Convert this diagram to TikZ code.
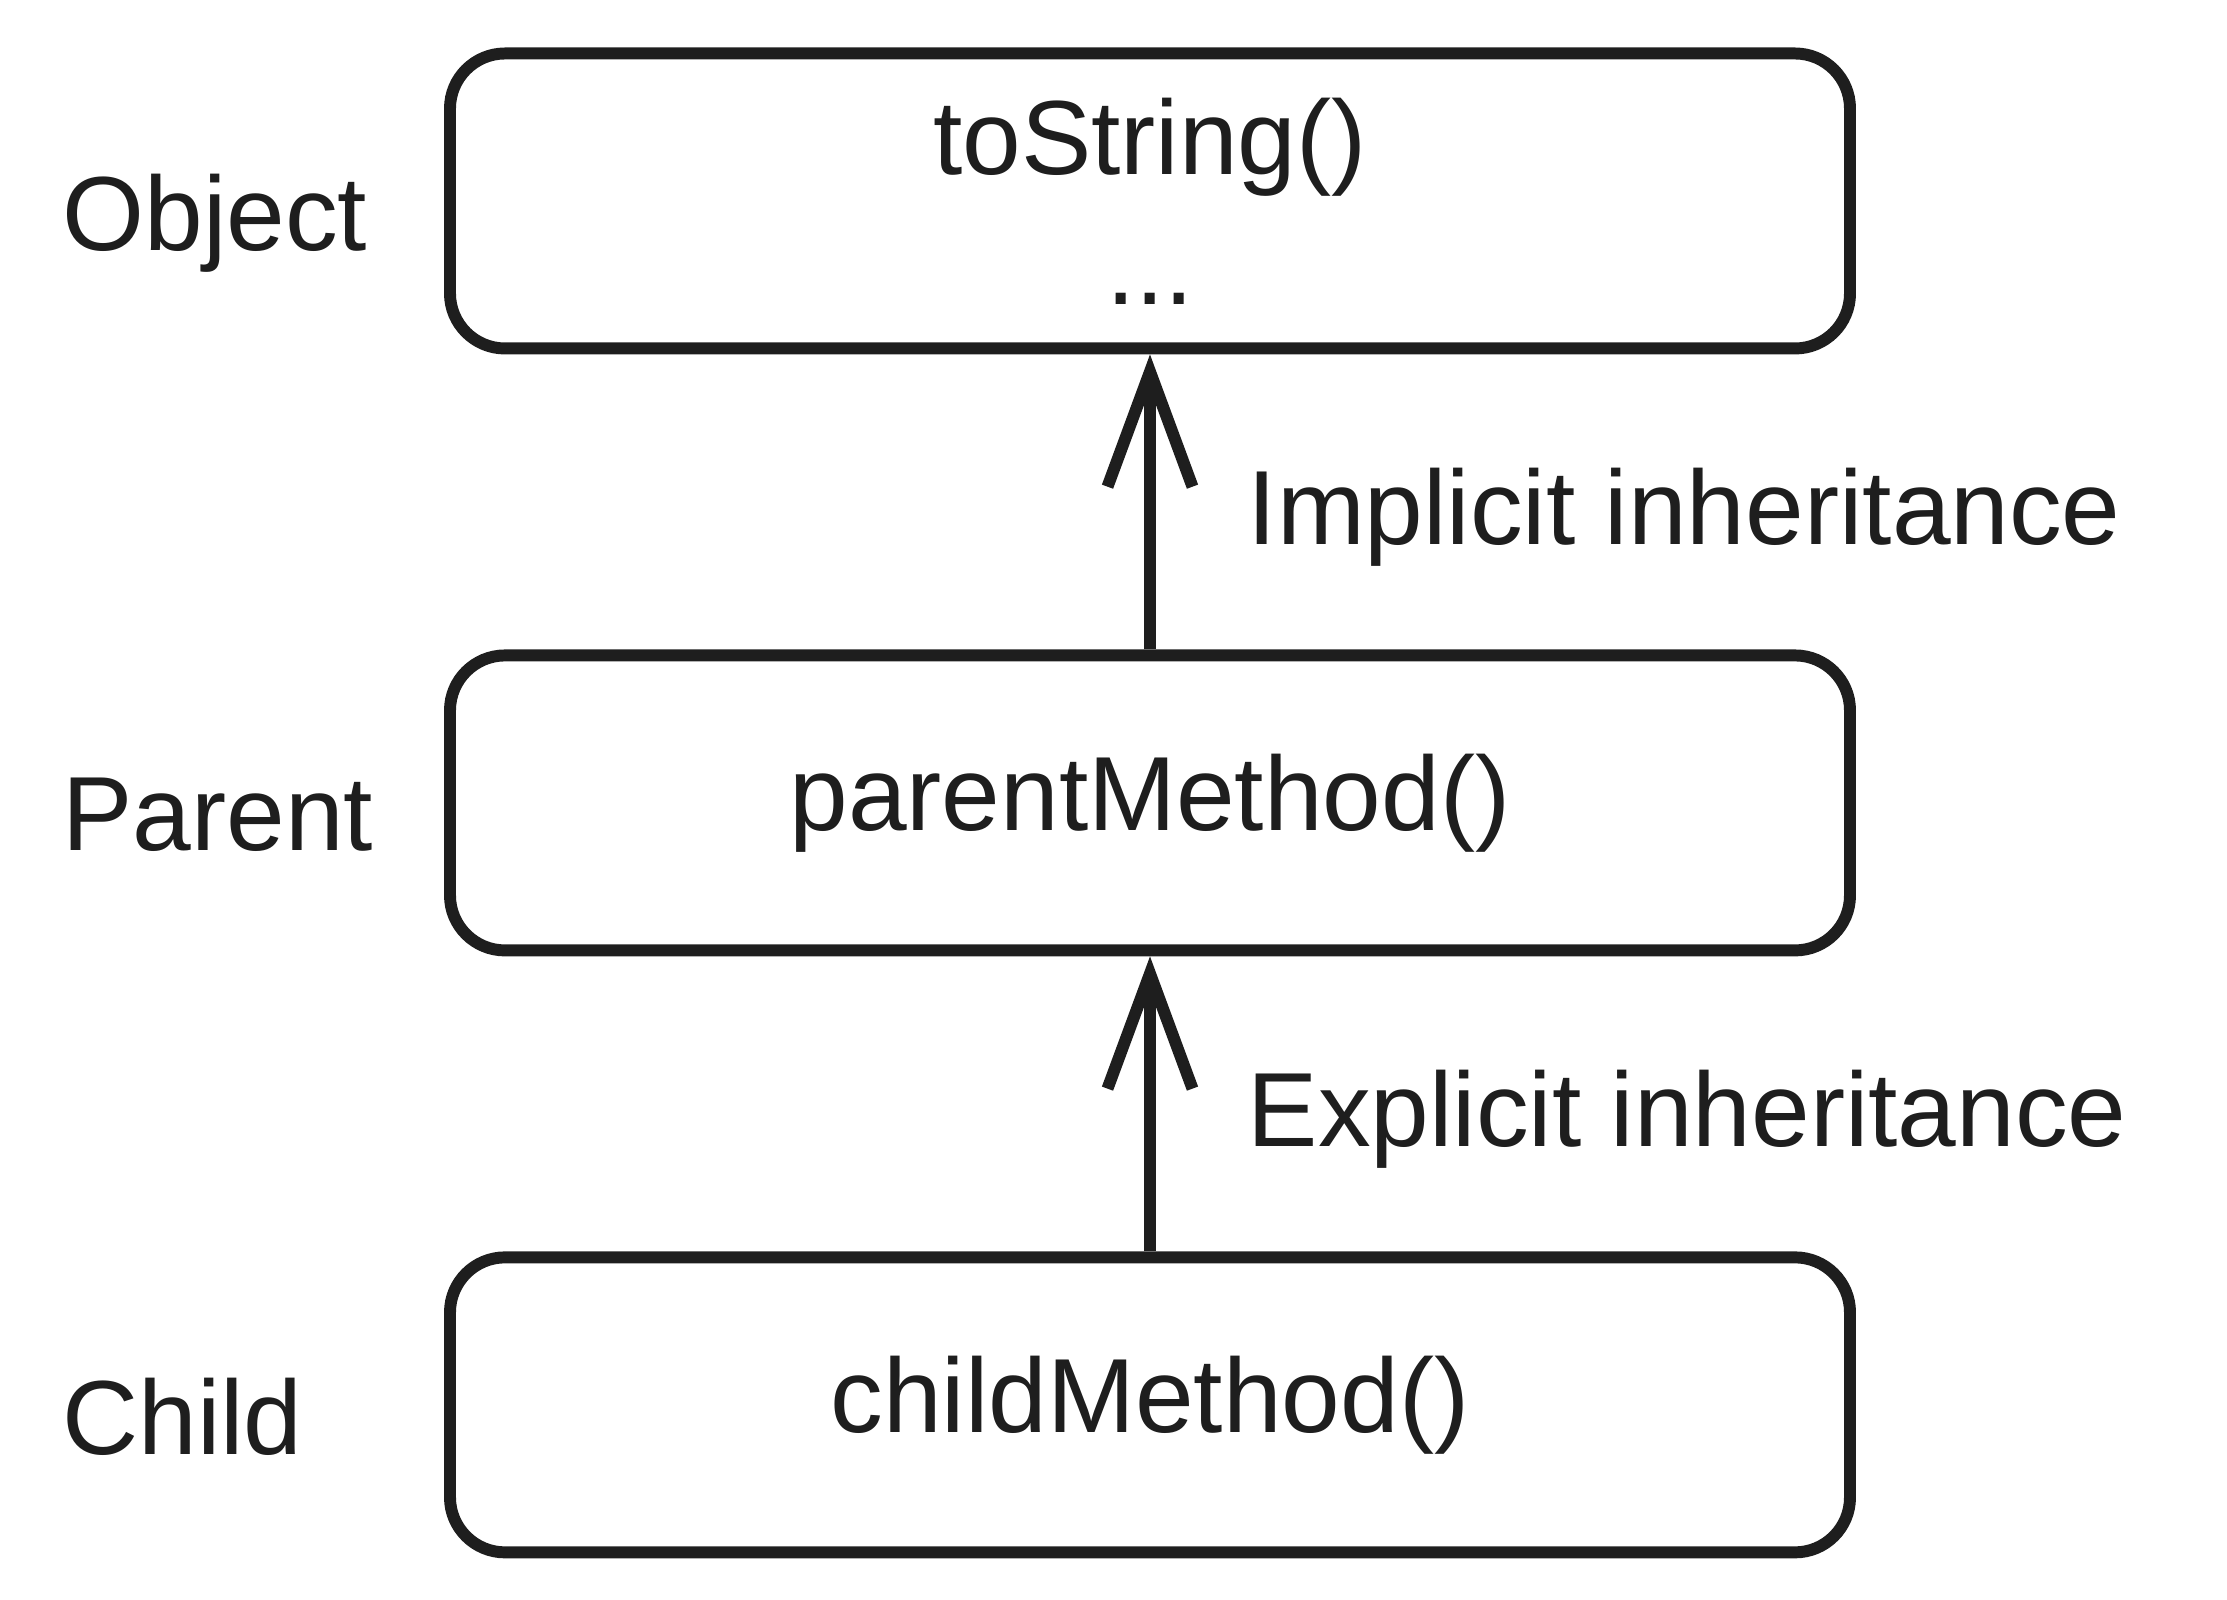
\documentclass[tikz,border=0pt]{standalone}
\usepackage{fontspec}
\setmainfont{Liberation Sans}
\usetikzlibrary{arrows.meta,positioning}
\definecolor{ink}{HTML}{1E1E1E}

\begin{document}
\begin{tikzpicture}[
      node distance=2.95cm,
      every node/.style={text=ink, font=\fontsize{30}{37}\selectfont},
      cls/.style={draw=ink, line width=3.4pt, rounded corners=0.55cm, align=center, minimum width=14cm, minimum height=2.95cm},
      lbl/.style={anchor=west, yshift=-0.12cm},
      arr/.style={-{Straight Barb[length=1.15cm, width=0.85cm]}, draw=ink, line width=3.4pt}
    ]
      \useasboundingbox (0,0) rectangle (22.27,16);
      \coordinate (lblx) at (0.5,0);
      \node[cls] (object) at (11.5,13.99) {toString()\\...};
      \node[cls, below=of object] (parent) {parentMethod()};
      \node[cls, below=of parent] (child) {childMethod()};
      \node[lbl, yshift=-0.1cm] (objlbl) at (object.west -| lblx) {Object};
      \node[lbl] (parlbl) at (parent.west -| lblx) {Parent};
      \node[lbl] (chilbl) at (child.west -| lblx) {Child};
      \draw[arr] (parent) -- node[right=0.8cm, yshift=-0.15cm] (implicit) {Implicit inheritance} (object);
      \draw[arr] (child) -- node[right=0.8cm, yshift=-0.15cm] (explicit) {Explicit inheritance} (parent);
    \end{tikzpicture}
\end{document}
